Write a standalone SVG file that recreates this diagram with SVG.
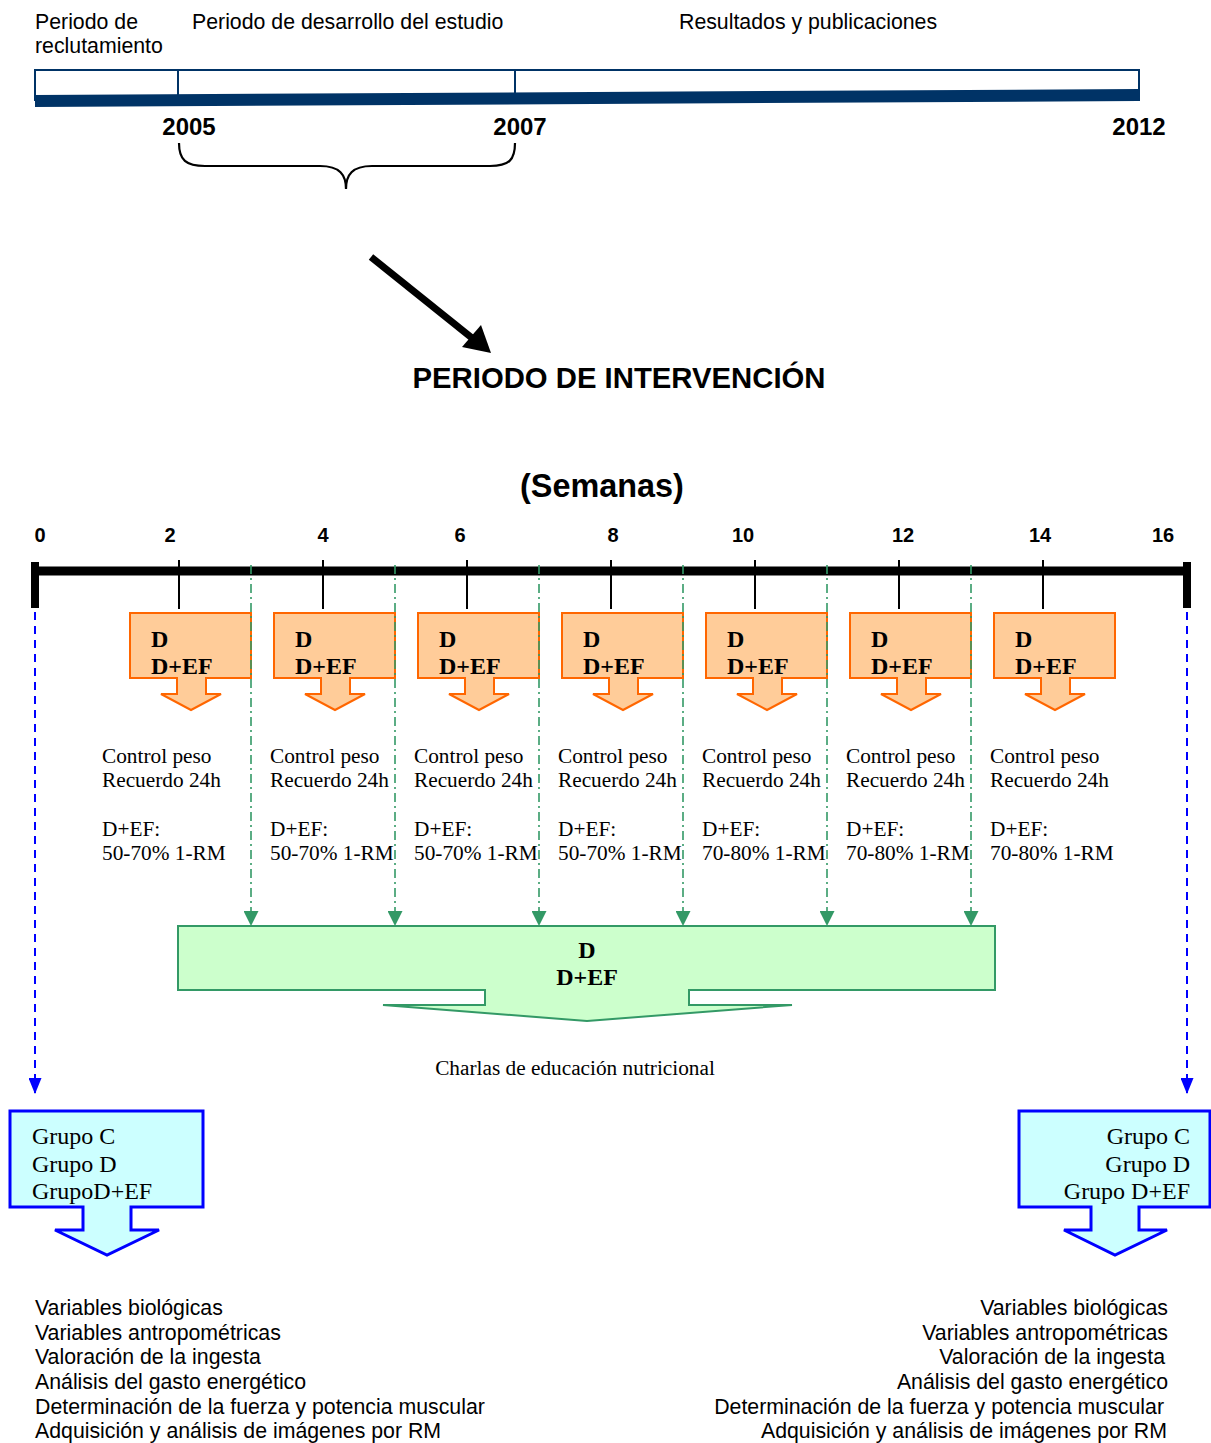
<svg xmlns="http://www.w3.org/2000/svg" width="1211" height="1443" viewBox="0 0 1211 1443">
<defs>
<marker id="ga" markerWidth="15" markerHeight="15" refX="14" refY="7.5" orient="auto" markerUnits="userSpaceOnUse" viewBox="0 0 15 15"><path d="M0,0 L15,7.5 L0,15 Z" fill="#339966"/></marker>
<marker id="ba" markerWidth="16" markerHeight="13" refX="15" refY="6.5" orient="auto" markerUnits="userSpaceOnUse" viewBox="0 0 16 13"><path d="M0,0 L16,6.5 L0,13 Z" fill="#0000ff"/></marker>
</defs>
<style>
.sans{font-family:"Liberation Sans",Arial,sans-serif;fill:#000}
.serif{font-family:"Liberation Serif","Times New Roman",serif;fill:#000}
.hdr{font-size:21.3px}
.yr{font-size:24px;font-weight:bold}
.wk{font-size:20px;font-weight:bold}
.bx{font-size:24px;font-weight:bold}
.lbl{font-size:21.3px}
.grp{font-size:24px}
.list{font-size:21.3px}
.org{fill:#ffcc99;stroke:#ff6600;stroke-width:2}
.grn{fill:#ccffcc;stroke:#339966;stroke-width:2}
.blu{fill:#ccffff;stroke:#0000ff;stroke-width:3}
.gdash{stroke:#339966;stroke-width:1.6;stroke-dasharray:9,4,2,4;fill:none}
.bdash{stroke:#0000ff;stroke-width:2;stroke-dasharray:8,6;fill:none}
.tick{stroke:#000;stroke-width:2}
</style>

<g id="timeline">
<rect x="35" y="70" width="1104" height="30" fill="#fff" stroke="#003366" stroke-width="2"/>
<line x1="178" y1="70" x2="178" y2="97" stroke="#003366" stroke-width="2"/>
<line x1="515" y1="70" x2="515" y2="97" stroke="#003366" stroke-width="2"/>
<polygon points="35,95 1139,89 1139,101 35,107" fill="#003366"/>
<text class="sans hdr" x="35" y="29">Periodo de</text>
<text class="sans hdr" x="35" y="53">reclutamiento</text>
<text class="sans hdr" x="192" y="29">Periodo de desarrollo del estudio</text>
<text class="sans hdr" x="679" y="29">Resultados y publicaciones</text>
<text class="sans yr" x="189" y="135" text-anchor="middle">2005</text>
<text class="sans yr" x="520" y="135" text-anchor="middle">2007</text>
<text class="sans yr" x="1139" y="135" text-anchor="middle">2012</text>
<path d="M179,143 C179,160 186,166 205,166 L320,166 C340,166 346,175 346,189 C346,175 352,166 372,166 L490,166 C509,166 515,160 515,143" fill="none" stroke="#000" stroke-width="2.2"/>
</g>

<g id="intervention-arrow">
<line x1="371" y1="257" x2="472" y2="338" stroke="#000" stroke-width="7"/>
<polygon points="491,353 462,347 481,325" fill="#000"/>
<text class="sans" x="619" y="388" text-anchor="middle" font-size="29.3" font-weight="bold">PERIODO DE INTERVENCIÓN</text>
</g>

<g id="weeks-axis">
<text class="sans" x="602" y="497" text-anchor="middle" font-size="32.4" font-weight="bold">(Semanas)</text>
<line x1="35" y1="571" x2="1187" y2="571" stroke="#000" stroke-width="9"/>
<rect x="31" y="562" width="8" height="46" fill="#000"/>
<rect x="1183" y="562" width="8" height="46" fill="#000"/>
<g class="tick">
<line x1="179" y1="560" x2="179" y2="609"/>
<line x1="323" y1="560" x2="323" y2="609"/>
<line x1="467" y1="560" x2="467" y2="609"/>
<line x1="611" y1="560" x2="611" y2="609"/>
<line x1="755" y1="560" x2="755" y2="609"/>
<line x1="899" y1="560" x2="899" y2="609"/>
<line x1="1043" y1="560" x2="1043" y2="609"/>
</g>
<text class="sans wk" x="40" y="542" text-anchor="middle">0</text>
<text class="sans wk" x="170" y="542" text-anchor="middle">2</text>
<text class="sans wk" x="323" y="542" text-anchor="middle">4</text>
<text class="sans wk" x="460" y="542" text-anchor="middle">6</text>
<text class="sans wk" x="613" y="542" text-anchor="middle">8</text>
<text class="sans wk" x="743" y="542" text-anchor="middle">10</text>
<text class="sans wk" x="903" y="542" text-anchor="middle">12</text>
<text class="sans wk" x="1040" y="542" text-anchor="middle">14</text>
<text class="sans wk" x="1163" y="542" text-anchor="middle">16</text>
</g>

<g id="week2"><path class="org" d="M130,613 H251 V678 H206 V694 H221 L191,710 L161,694 H177 V678 H130 Z"/><text class="serif bx" x="151" y="647">D</text><text class="serif bx" x="151" y="674">D+EF</text></g>
<g id="week4"><path class="org" d="M274,613 H395 V678 H350 V694 H365 L335,710 L305,694 H321 V678 H274 Z"/><text class="serif bx" x="295" y="647">D</text><text class="serif bx" x="295" y="674">D+EF</text></g>
<g id="week6"><path class="org" d="M418,613 H539 V678 H494 V694 H509 L479,710 L449,694 H465 V678 H418 Z"/><text class="serif bx" x="439" y="647">D</text><text class="serif bx" x="439" y="674">D+EF</text></g>
<g id="week8"><path class="org" d="M562,613 H683 V678 H638 V694 H653 L623,710 L593,694 H609 V678 H562 Z"/><text class="serif bx" x="583" y="647">D</text><text class="serif bx" x="583" y="674">D+EF</text></g>
<g id="week10"><path class="org" d="M706,613 H827 V678 H782 V694 H797 L767,710 L737,694 H753 V678 H706 Z"/><text class="serif bx" x="727" y="647">D</text><text class="serif bx" x="727" y="674">D+EF</text></g>
<g id="week12"><path class="org" d="M850,613 H971 V678 H926 V694 H941 L911,710 L881,694 H897 V678 H850 Z"/><text class="serif bx" x="871" y="647">D</text><text class="serif bx" x="871" y="674">D+EF</text></g>
<g id="week14"><path class="org" d="M994,613 H1115 V678 H1070 V694 H1085 L1055,710 L1025,694 H1041 V678 H994 Z"/><text class="serif bx" x="1015" y="647">D</text><text class="serif bx" x="1015" y="674">D+EF</text></g>

<g id="week-notes" class="serif lbl">
<text x="102" y="763">Control peso</text><text x="102" y="787">Recuerdo 24h</text><text x="102" y="836">D+EF:</text><text x="102" y="860">50-70% 1-RM</text>
<text x="270" y="763">Control peso</text><text x="270" y="787">Recuerdo 24h</text><text x="270" y="836">D+EF:</text><text x="270" y="860">50-70% 1-RM</text>
<text x="414" y="763">Control peso</text><text x="414" y="787">Recuerdo 24h</text><text x="414" y="836">D+EF:</text><text x="414" y="860">50-70% 1-RM</text>
<text x="558" y="763">Control peso</text><text x="558" y="787">Recuerdo 24h</text><text x="558" y="836">D+EF:</text><text x="558" y="860">50-70% 1-RM</text>
<text x="702" y="763">Control peso</text><text x="702" y="787">Recuerdo 24h</text><text x="702" y="836">D+EF:</text><text x="702" y="860">70-80% 1-RM</text>
<text x="846" y="763">Control peso</text><text x="846" y="787">Recuerdo 24h</text><text x="846" y="836">D+EF:</text><text x="846" y="860">70-80% 1-RM</text>
<text x="990" y="763">Control peso</text><text x="990" y="787">Recuerdo 24h</text><text x="990" y="836">D+EF:</text><text x="990" y="860">70-80% 1-RM</text>
</g>

<g id="education">
<path class="grn" d="M178,926 H995 V990 H689 V1005 H792 L587,1021 L383,1005 H485 V990 H178 Z"/>
<text class="serif bx" x="587" y="958" text-anchor="middle">D</text>
<text class="serif bx" x="587" y="985" text-anchor="middle">D+EF</text>
<text class="serif lbl" x="575" y="1075" text-anchor="middle">Charlas de educación nutricional</text>
</g>

<g id="connectors">
<line class="gdash" x1="251" y1="565" x2="251" y2="925" marker-end="url(#ga)"/>
<line class="gdash" x1="395" y1="565" x2="395" y2="925" marker-end="url(#ga)"/>
<line class="gdash" x1="539" y1="565" x2="539" y2="925" marker-end="url(#ga)"/>
<line class="gdash" x1="683" y1="565" x2="683" y2="925" marker-end="url(#ga)"/>
<line class="gdash" x1="827" y1="565" x2="827" y2="925" marker-end="url(#ga)"/>
<line class="gdash" x1="971" y1="565" x2="971" y2="925" marker-end="url(#ga)"/>
<line class="bdash" x1="35" y1="612" x2="35" y2="1093" marker-end="url(#ba)"/>
<line class="bdash" x1="1187" y1="612" x2="1187" y2="1093" marker-end="url(#ba)"/>
</g>

<g id="groups-start">
<path class="blu" d="M10,1111 H203 V1207 H131 V1230 H159 L107,1255 L55,1230 H83 V1207 H10 Z"/>
<text class="serif grp" x="32" y="1144">Grupo C</text>
<text class="serif grp" x="32" y="1172">Grupo D</text>
<text class="serif grp" x="32" y="1199">GrupoD+EF</text>
</g>
<g id="groups-end">
<path class="blu" d="M1019,1111 H1210 V1207 H1139 V1230 H1167 L1115,1255 L1064,1230 H1091 V1207 H1019 Z"/>
<text class="serif grp" x="1190" y="1144" text-anchor="end">Grupo C</text>
<text class="serif grp" x="1190" y="1172" text-anchor="end">Grupo D</text>
<text class="serif grp" x="1190" y="1199" text-anchor="end">Grupo D+EF</text>
</g>

<g id="measures-start" class="sans list">
<text x="35" y="1315">Variables biológicas</text>
<text x="35" y="1340">Variables antropométricas</text>
<text x="35" y="1364">Valoración de la ingesta</text>
<text x="35" y="1389">Análisis del gasto energético</text>
<text x="35" y="1414">Determinación de la fuerza y potencia muscular</text>
<text x="35" y="1438">Adquisición y análisis de imágenes por RM</text>
</g>
<g id="measures-end" class="sans list" text-anchor="end">
<text x="1168" y="1315">Variables biológicas</text>
<text x="1168" y="1340">Variables antropométricas</text>
<text x="1165" y="1364">Valoración de la ingesta</text>
<text x="1168" y="1389">Análisis del gasto energético</text>
<text x="1164" y="1414">Determinación de la fuerza y potencia muscular</text>
<text x="1167" y="1438">Adquisición y análisis de imágenes por RM</text>
</g>
</svg>
